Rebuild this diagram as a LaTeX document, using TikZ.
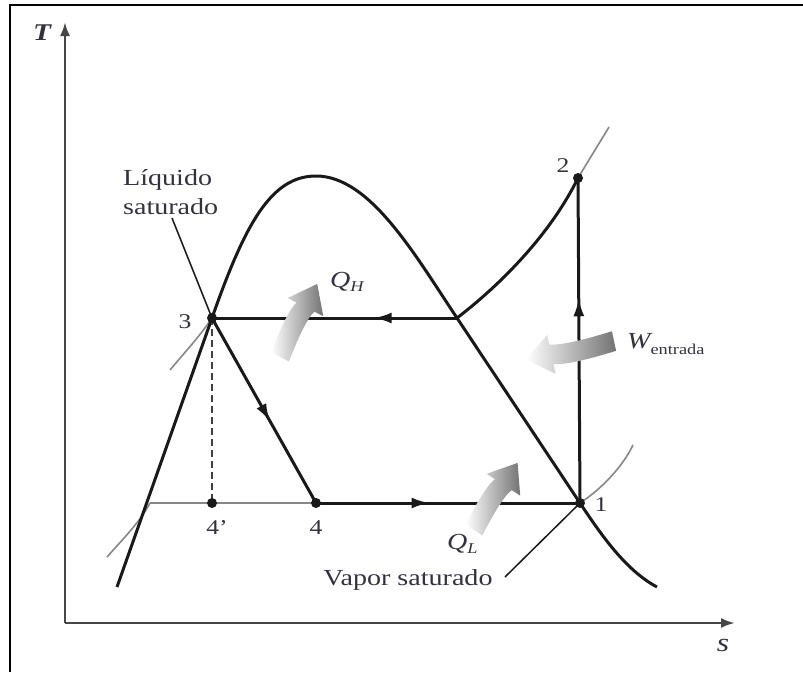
\documentclass[tikz,border=0pt]{standalone}
\usepackage{fontspec}
\setmainfont[FakeStretch=1.22]{Liberation Serif}
\usetikzlibrary{arrows.meta,decorations.markings,calc}
\definecolor{txtc}{RGB}{50,50,62}
\definecolor{linec}{RGB}{25,25,25}
\definecolor{isoc}{RGB}{135,135,135}
\newcommand\fatarr[4]{%
  \begin{scope}[shift={#1}, rotate=#2]
    \shade[left color=white, right color=black!55, draw=none]
      (0,-10) .. controls ({0.35*#3},{-10+#4}) and ({0.6*#3},{-10+#4}) .. ({#3-26},-10)
      -- ({#3-26},-20) -- (#3,0) -- ({#3-26},20) -- ({#3-26},10)
      .. controls ({0.6*#3},{10+#4}) and ({0.35*#3},{10+#4}) .. (0,10) -- cycle;
  \end{scope}}
\begin{document}
\begin{tikzpicture}[x=1pt,y=-1pt,
  dome/.style={draw=linec, line width=3},
  cyc/.style={draw=linec, line width=3},
  axis/.style={draw=black!72, line width=2.5, -{Latex[length=14,width=10]}},
  iso/.style={draw=isoc, line width=1.6},
  lead/.style={draw=linec, line width=1.5},
  dot/.style={fill=linec},
  lbl/.style={text=txtc, inner sep=0pt, font=\fontsize{21}{24}\selectfont},
  txt/.style={text=txtc, inner sep=0pt, font=\fontsize{23}{29}\selectfont},
  midarrow/.style={postaction={decorate, decoration={markings,
     mark=at position #1 with {\arrow{Latex[length=18,width=11]}}}}}
]
\useasboundingbox (0,0) rectangle (803,672);
% outer frame
\draw[line width=2.5, black] (10,672) -- (10,5) -- (803,5);

% points
\coordinate (p1) at (580,503);
\coordinate (p2) at (578,178);
\coordinate (p3) at (212,318);
\coordinate (p4) at (316,503);
\coordinate (p4p) at (212,503);
\coordinate (ph) at (457,318);
\coordinate (pl) at (150,503);
\coordinate (o) at (65,623);
\coordinate (ty) at (65,22);
\coordinate (sx) at (735,623);

% axes
\draw[axis] (o) -- (ty);
\draw[axis] (o) -- (sx);
\node[txt, font=\fontsize{24}{28}\selectfont\bfseries\itshape] (tl) at (42,33) {T};
\node[txt, font=\fontsize{26}{28}\selectfont\itshape] (sl) at (723,645) {s};

% thin isobars (gray)
\draw[iso] (170,370) .. controls (185,352) and (200,336) .. (p3);
\draw[iso] (107,557) .. controls (122,540) and (140,522) .. (pl);
\draw[iso, line width=2] (pl) -- (p4p) -- (p4);
\draw[iso] (p1) .. controls (600,490) and (622,468) .. (633,445);
\draw[iso] (p2) .. controls (590,158) and (600,142) .. (609,127);

% dome
\draw[dome] (117,587) -- (p3) .. controls (245,224) and (271,176) .. (316,176)
  .. controls (370,176) and (415,255) .. (ph) -- (p1)
  .. controls (600,533) and (625,570) .. (657,587);
% superheated curve
\draw[cyc] (ph) .. controls (500,285) and (550,235) .. (p2);

% cycle
\draw[cyc, midarrow=0.34] (ph) -- (p3);
\draw[cyc, midarrow=0.56] (p3) -- (p4);
\draw[cyc, midarrow=0.43] (p4) -- (p1);
\draw[cyc, midarrow=0.63] (p1) -- (p2);
\draw[draw=black!75, line width=2, dash pattern=on 7pt off 4pt] (p3) -- (p4p);

% leaders
\draw[lead] (172,218) -- (p3);
\draw[lead] (505,577) -- (p1);

% dots
\foreach \p in {p1,p2,p3,p4,p4p} \fill[dot] (\p) circle (5);

% fat arrows
\fatarr{(280,357)}{63}{82}{-3}
\fatarr{(474,530)}{57}{80}{-3}
\fatarr{(614,341)}{192}{90}{-3}

% labels
\node[lbl] (l1) at (601,505) {1};
\node[lbl] (l2) at (563,166) {2};
\node[lbl] (l3) at (185,322) {3};
\node[lbl] (l4) at (316,528) {4};
\node[lbl] (l4p) at (217,528) {4'};

\node[txt, align=left, anchor=west] (liq) at (123,192) {Líquido\\saturado};
\node[txt, anchor=base] (vap) at (408,585) {Vapor saturado};
\node[txt, anchor=base west] (qh) at (330,287) {\itshape Q\raisebox{-4pt}{\fontsize{15}{15}\selectfont H}};
\node[txt, anchor=base west] (ql) at (447,549) {\itshape Q\raisebox{-4pt}{\fontsize{15}{15}\selectfont L}};
\node[txt, anchor=base west] (we) at (627,348) {{\itshape W}\raisebox{-6pt}{\fontsize{15}{15}\selectfont entrada}};
\end{tikzpicture}
\end{document}
